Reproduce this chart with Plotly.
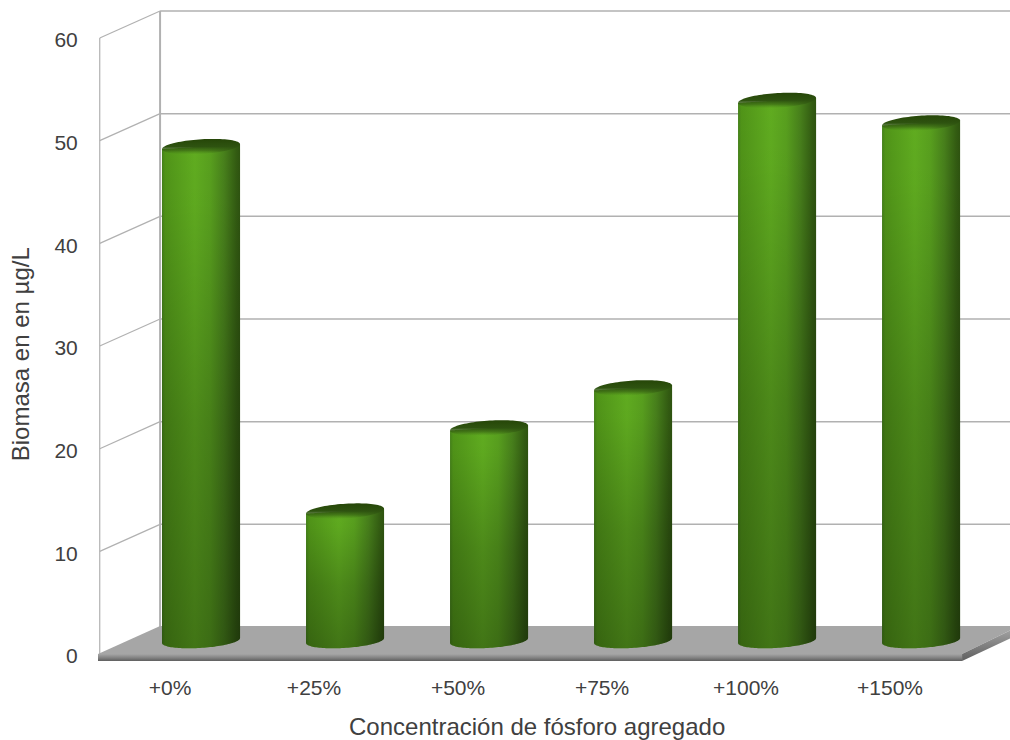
import numpy as np
import plotly.graph_objects as go

# Chart data
categories = ["+0%", "+25%", "+50%", "+75%", "+100%", "+150%"]
biomass = [48.1, 12.6, 20.7, 24.6, 52.6, 50.4]
y_ticks = [0, 10, 20, 30, 40, 50, 60]
x_title = "Concentración de fósforo agregado"
y_title = "Biomasa en en µg/L"

# Oblique projection: how far the back wall is shifted from the front plane,
# in x-axis units (categories) and y-axis units (biomass).
DEPTH_X = 0.431
DEPTH_Y = 2.63
X_MIN, X_MAX = -0.5, 5.833
Y_MIN, Y_MAX = -0.68, 63.7
BAR_DEPTH = 0.5          # cylinders stand halfway between front and back
BAR_RX = 0.271           # cylinder half-width, category units
BAR_RY = 0.72            # ellipse half-height, value units
BAR_TILT = 0.24          # ellipse slant, value units at the right end
CORNER_X = 5.5           # front right corner of the floor
FLOOR_TOP = 0.0
FLOOR_EDGE = -0.68

GRID = "#b1b1b1"
TEXT = "#404040"
FONT = "Liberation Sans"

fig = go.Figure()


def lines(xs, ys, width):
    fig.add_trace(go.Scatter(x=xs, y=ys, mode="lines", hoverinfo="skip",
                             line=dict(color=GRID, width=width), showlegend=False))


def area(xs, ys, **style):
    fig.add_trace(go.Scatter(x=xs, y=ys, mode="none", fill="toself", hoverinfo="skip",
                             showlegend=False, **style))


# Back-wall gridlines and the slanted side-wall lines
back_x = X_MIN + DEPTH_X
wall_x = X_MIN + 0.012
grid_x, grid_y, side_x, side_y = [], [], [], []
for t in y_ticks[1:]:
    grid_x += [back_x, X_MAX, None]
    grid_y += [t + DEPTH_Y, t + DEPTH_Y, None]
    side_x += [wall_x, back_x, None]
    side_y += [t, t + DEPTH_Y, None]
lines(grid_x, grid_y, 1.5)
lines(side_x, side_y, 1.2)
lines([back_x, back_x], [0, y_ticks[-1] + DEPTH_Y], 2)
lines([wall_x, wall_x], [0, y_ticks[-1]], 1.2)

# Floor slab: top face, front edge, right edge
right_slope = 2.3
area([X_MIN, back_x, X_MAX, X_MAX, CORNER_X, X_MIN],
     [FLOOR_TOP, DEPTH_Y + 0.1, DEPTH_Y + 0.1, right_slope, FLOOR_TOP, FLOOR_TOP],
     fillcolor="#a6a6a6")
area([X_MIN, CORNER_X, CORNER_X, X_MIN],
     [FLOOR_TOP, FLOOR_TOP, FLOOR_EDGE, FLOOR_EDGE],
     fillgradient=dict(type="vertical",
                       colorscale=[[0, "#5f5f5f"], [0.5, "#858585"], [1, "#a6a6a6"]]))
area([CORNER_X, X_MAX, X_MAX, CORNER_X],
     [FLOOR_TOP, right_slope, right_slope - 0.8, FLOOR_EDGE],
     fillgradient=dict(type="vertical",
                       colorscale=[[0, "#5f5f5f"], [0.5, "#808080"], [1, "#a0a0a0"]]))

# Cylinders: side shading, top-to-bottom darkening, then the lid
theta = np.linspace(0, np.pi, 60)
side_stops = [[0, "#44801a"], [0.04, "#509418"], [0.42, "#60ac20"], [0.62, "#589f1e"],
              [0.8, "#477f1b"], [0.95, "#335c12"], [1, "#2e5310"]]
shade_stops = [[0, "rgba(0,0,0,0.32)"], [0.45, "rgba(0,0,0,0.2)"], [0.88, "rgba(0,0,0,0.02)"],
               [1, "rgba(0,0,0,0)"]]
lid_stops = [[0, "rgba(70,125,25,0)"], [0.25, "rgba(52,92,18,0.6)"], [0.5, "#2e5310"],
             [1, "#264608"]]

for i, value in enumerate(biomass):
    cx = i + BAR_DEPTH * DEPTH_X
    base = BAR_DEPTH * DEPTH_Y
    top = value + base

    # Silhouette: straight across the top rim, rounded along the bottom rim
    ex = cx + BAR_RX * np.cos(theta)
    slant = BAR_TILT * np.cos(theta)
    sil_x = np.concatenate([ex, ex[::-1]])
    sil_y = np.concatenate([top + slant, base + slant[::-1] - BAR_RY * np.sin(theta[::-1])])
    area(sil_x, sil_y, fillgradient=dict(type="horizontal", colorscale=side_stops))
    area(sil_x, sil_y, fillgradient=dict(type="vertical", colorscale=shade_stops))

    # Dark lid that melts into the body below it
    lid_t = np.linspace(0, 2 * np.pi, 90)
    lid_x = cx + BAR_RX * np.cos(lid_t)
    lid_y = top + BAR_TILT * np.cos(lid_t) + BAR_RY * np.sin(lid_t)
    area(lid_x, lid_y, fillgradient=dict(type="vertical", colorscale=lid_stops))

fig.update_layout(
    width=1010, height=740, autosize=False,
    margin=dict(l=98, r=0, t=0, b=79),
    plot_bgcolor="white", paper_bgcolor="white",
    showlegend=False,
    font=dict(family=FONT, size=21, color=TEXT),
    xaxis=dict(range=[X_MIN, X_MAX], tickmode="array",
               tickvals=list(range(len(categories))), ticktext=categories,
               showgrid=False, zeroline=False, showline=False,
               ticks="outside", ticklen=8, tickcolor="rgba(0,0,0,0)",
               tickfont=dict(family=FONT, size=21, color=TEXT)),
    yaxis=dict(range=[Y_MIN, Y_MAX], tickmode="array", tickvals=y_ticks,
               showgrid=False, zeroline=False, showline=False,
               ticks="outside", ticklen=15, tickcolor="rgba(0,0,0,0)",
               ticklabelshift=2,
               tickfont=dict(family=FONT, size=21, color=TEXT)),
    annotations=[
        dict(text=x_title, xref="x", yref="paper", x=2.55, y=0, yanchor="top", yshift=-50,
             showarrow=False, font=dict(family=FONT, size=24, color=TEXT)),
        dict(text=y_title, xref="paper", yref="y", x=0, y=29.2, xanchor="center", xshift=-78,
             textangle=-90, showarrow=False, font=dict(family=FONT, size=24, color=TEXT)),
    ],
)

fig.write_html("out.html", config={"displayModeBar": False})
